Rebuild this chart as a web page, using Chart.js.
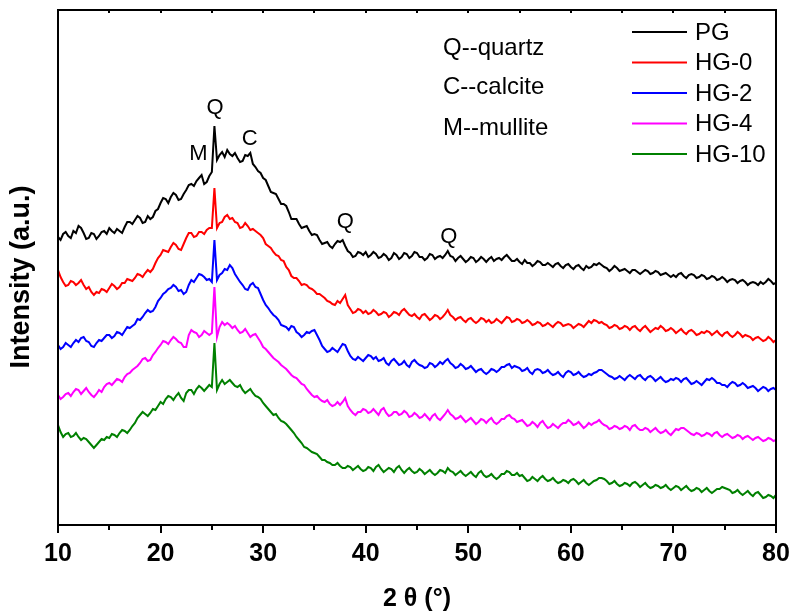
<!DOCTYPE html>
<html><head><meta charset="utf-8">
<script src="https://cdn.jsdelivr.net/npm/chart.js@4.4.1/dist/chart.umd.min.js"></script>
<style>html,body{margin:0;padding:0;background:#fff;}canvas{display:block;}</style>
</head><body>
<canvas id="c" width="790" height="615"></canvas>
<script>
// sampling grid: 2θ from 10° to 80° every 0.25°
const twoTheta = [];
for (let i = 0; i <= 280; i++) twoTheta.push(10 + i * 0.25);

// Intensities (a.u., offset-stacked as in the figure), one row per 5°
const PG = [
288,285,291,293,289,287,294,292,299,297,292,286,287,292,291,286,289,293,294,291,
297,294,292,296,294,292,298,303,303,301,305,309,307,302,303,309,306,308,314,316,
322,327,326,322,328,332,330,325,326,331,335,340,341,339,344,347,350,341,343,349,
353,399,365,370,373,368,375,371,369,372,367,363,364,370,369,372,361,358,354,352,
347,345,339,333,332,331,326,321,321,319,313,306,306,306,301,297,298,299,294,290,
291,290,285,281,282,283,279,277,281,284,283,285,279,274,272,268,269,273,272,270,
273,268,270,273,271,267,268,271,269,265,267,272,270,266,268,272,271,267,269,273,
272,268,268,265,267,271,270,266,268,269,267,270,274,269,268,264,267,269,266,263,
265,268,267,263,265,268,266,263,266,268,264,266,267,265,268,270,267,264,264,266,
263,261,265,262,262,259,261,264,263,260,260,262,260,258,261,262,259,257,260,261,
258,256,259,260,257,255,259,257,258,261,260,262,260,258,257,254,256,259,257,254,
255,256,254,252,255,255,253,251,253,255,254,251,252,254,253,250,251,252,250,248,
250,248,251,252,249,247,250,251,250,247,248,250,249,246,247,249,248,245,246,248,
246,243,245,246,245,242,244,245,243,240,242,243,242,240,243,241,243,246,244,241,
242];
const HG0 = [
255,248,243,239,240,244,243,240,242,245,240,236,238,233,230,233,232,236,235,233,
237,241,239,236,238,242,242,246,245,244,247,251,250,248,252,255,253,256,262,267,
270,275,274,273,278,282,280,276,275,281,287,292,292,288,289,293,293,291,295,297,
297,337,297,302,303,308,310,306,307,303,302,297,298,302,299,295,296,294,292,290,
287,281,279,277,273,270,269,265,264,258,255,249,247,247,244,240,241,240,237,236,
234,231,231,229,227,224,223,221,220,224,222,226,230,220,216,212,213,216,215,212,
214,211,212,215,213,210,211,213,212,208,210,213,212,210,214,216,213,210,209,211,
208,206,210,211,208,205,207,210,209,206,208,211,215,210,208,205,207,208,205,203,
206,207,204,202,204,207,206,203,205,202,203,206,204,202,205,208,207,203,204,206,
205,202,203,205,203,200,201,203,202,199,200,202,200,198,201,203,202,199,200,201,
200,197,199,201,200,198,201,204,202,205,204,202,203,201,200,197,198,200,199,196,
197,199,198,195,198,199,196,194,197,199,196,193,195,197,196,199,197,194,195,197,
195,192,194,196,193,191,194,195,193,190,191,193,192,194,193,190,192,194,191,189,
192,193,190,188,190,193,191,188,190,189,188,185,187,188,186,184,185,188,186,183,
185];
const HG2 = [
180,176,178,182,180,178,182,185,183,187,188,184,183,179,178,182,185,184,187,190,
190,187,189,193,192,190,194,198,197,199,201,206,205,208,212,215,213,214,218,224,
227,231,233,236,237,240,238,234,235,231,233,240,245,243,247,251,250,248,245,246,
243,285,245,250,252,256,255,260,257,251,247,243,240,236,235,240,242,238,237,231,
225,220,217,213,210,208,205,200,199,198,195,199,198,193,191,188,190,193,192,194,
195,190,185,179,176,173,174,177,175,173,177,181,180,174,169,166,165,168,166,164,
167,170,169,166,168,164,165,167,162,160,164,166,163,160,161,164,160,158,163,165,
162,160,159,157,158,162,161,158,160,163,161,164,166,162,160,157,158,161,159,156,
157,159,156,153,155,156,153,151,153,156,155,153,155,158,158,160,161,157,159,158,
157,154,155,157,153,151,155,156,155,152,153,155,152,150,151,153,150,148,152,154,
153,150,151,153,150,148,149,151,150,152,153,155,155,153,151,149,148,146,147,149,
147,145,148,150,148,146,149,150,147,145,148,149,147,144,146,148,145,143,144,146,
145,147,146,143,146,147,144,141,142,144,142,140,143,146,145,147,145,142,142,140,
140,138,141,143,142,139,140,142,140,137,138,139,137,134,136,138,137,134,136,137,
135];
const HG4 = [
130,126,128,131,132,129,133,136,135,131,134,137,133,130,128,131,135,133,138,141,
142,140,143,146,145,143,148,151,152,155,157,159,162,166,167,164,165,170,173,177,
180,184,183,181,185,188,186,183,182,178,178,190,195,193,192,188,190,194,192,190,
192,238,188,198,203,200,202,200,197,199,195,192,193,196,192,188,190,191,187,183,
178,176,173,170,167,165,163,160,158,156,153,150,148,147,144,141,140,136,133,130,
128,129,126,124,123,125,121,119,120,123,120,123,127,119,115,112,110,113,113,116,
115,112,113,116,113,110,115,117,112,109,110,113,113,110,111,114,112,108,109,112,
110,107,108,111,108,105,109,111,107,105,108,111,115,111,109,106,107,109,106,103,
105,107,104,101,103,106,105,102,105,107,103,101,103,106,106,109,110,107,106,103,
104,105,102,99,100,103,101,98,102,104,100,97,98,101,99,97,100,102,102,105,
103,100,101,103,100,97,99,102,100,102,103,105,102,100,99,96,97,99,98,96,
97,99,98,95,99,100,97,95,95,97,96,93,95,97,94,92,93,95,92,90,
93,96,95,97,97,95,93,91,90,92,91,89,90,92,91,89,92,93,90,88,
90,91,89,87,88,90,89,86,88,89,87,85,87,88,86,84,85,87,86,84,
85];
const HG10 = [
100,93,88,91,92,88,89,92,88,85,87,86,83,80,77,80,83,86,85,88,
87,91,90,88,92,95,94,92,95,99,102,107,110,113,111,109,112,116,115,119,
123,121,126,129,128,125,129,132,127,124,132,135,135,131,136,139,137,134,137,140,
138,182,135,141,145,141,143,145,142,139,138,140,135,132,134,136,132,129,128,126,
122,119,116,113,110,111,107,104,103,101,98,95,92,88,85,82,78,77,75,73,
72,71,68,65,65,63,62,60,60,62,59,57,57,59,58,55,57,59,56,54,
55,58,57,54,58,60,56,53,55,57,56,53,57,59,55,52,55,57,54,52,
53,56,54,51,53,55,52,50,52,55,54,52,57,54,53,50,52,54,51,49,
51,53,50,48,52,54,50,48,49,51,48,46,48,51,51,54,53,50,50,52,
49,50,47,44,45,48,46,44,47,49,46,44,45,47,44,42,43,45,44,42,
45,46,44,41,43,45,42,40,42,44,45,47,47,46,44,41,42,44,41,39,
40,42,41,39,42,43,41,38,40,42,39,37,38,40,39,37,38,40,37,35,
37,39,38,35,37,39,36,34,35,37,36,33,35,37,34,32,34,36,36,38,
37,36,35,32,33,35,32,30,32,34,31,29,32,33,30,27,28,30,29,27,
30];

const seriesNames = ['PG','HG-0','HG-2','HG-4','HG-10'];
const seriesValues = [PG, HG0, HG2, HG4, HG10];
const seriesColors = ['#000000','#ff0000','#0000ff','#ff00ff','#008000'];
const xTickValues = [10,20,30,40,50,60,70,80];
const phaseNotes = ['Q--quartz','C--calcite','M--mullite'];
// peak annotations [label, 2θ, intensity]
const peakLabels = [['Q',25.3,417],['M',23.7,371],['C',28.7,386],['Q',38.0,303],['Q',48.1,288]];

const FONT = 'Arial, "Liberation Sans", sans-serif';

const datasets = seriesNames.map((n,i)=>({
  label:n,
  data: twoTheta.map((x,j)=>({x:x, y:seriesValues[i][j]})),
  borderColor: seriesColors[i],
  backgroundColor: seriesColors[i],
  borderWidth: 2,
  pointRadius: 0,
  tension: 0,
  fill: false
}));

const decor = {
  id:'decor',
  afterDraw(chart){
    const ctx = chart.ctx, a = chart.chartArea, xs = chart.scales.x, ys = chart.scales.y;
    ctx.save();
    ctx.strokeStyle = '#000';
    ctx.lineWidth = 2;
    ctx.strokeRect(a.left, a.top, a.right - a.left, a.bottom - a.top);
    for (let v = xs.min; v <= xs.max; v += 5) {
      const p = Math.round(xs.getPixelForValue(v));
      const len = (v % 10 === 0) ? 8 : 5;
      ctx.beginPath(); ctx.moveTo(p, a.bottom); ctx.lineTo(p, a.bottom + len); ctx.stroke();
      ctx.beginPath(); ctx.moveTo(p, a.top); ctx.lineTo(p, a.top + 3); ctx.stroke();
    }
    ctx.fillStyle = '#000';
    ctx.font = 'bold 27px ' + FONT;
    ctx.textAlign = 'center';
    ctx.textBaseline = 'middle';
    ctx.save();
    ctx.translate(22, 277);
    ctx.rotate(-Math.PI/2);
    ctx.fillText('Intensity (a.u.)', 0, 0);
    ctx.restore();
    ctx.font = '24px ' + FONT;
    ctx.textAlign = 'left';
    chart.data.datasets.forEach((d,i)=>{
      const y = 32 + i*30.5;
      ctx.strokeStyle = d.borderColor; ctx.lineWidth = 2;
      ctx.beginPath(); ctx.moveTo(632, y); ctx.lineTo(687, y); ctx.stroke();
      ctx.fillText(d.label, 695, y + 1);
    });
    const noteY = [48, 87, 128];
    phaseNotes.forEach((t,i)=>{ ctx.fillText(t, 443, noteY[i]); });
    ctx.font = '22px ' + FONT;
    ctx.textAlign = 'center';
    peakLabels.forEach(([t,x,y])=>{
      ctx.fillText(t, xs.getPixelForValue(x), ys.getPixelForValue(y));
    });
    ctx.restore();
  }
};

new Chart(document.getElementById('c'), {
  type:'line',
  data:{datasets},
  options:{
    responsive:false,
    animation:false,
    devicePixelRatio:1,
    layout:{padding:{left:0,right:0,top:10,bottom:0}},
    plugins:{legend:{display:false},tooltip:{enabled:false}},
    scales:{
      x:{
        type:'linear', min:10, max:80,
        afterBuildTicks(s){ s.ticks = xTickValues.map(v=>({value:v})); },
        afterFit(s){ s.height = 90; s.paddingLeft = 0; s.paddingRight = 14; },
        grid:{display:false, drawTicks:false},
        border:{display:false},
        ticks:{color:'#000', font:{family:FONT, size:25, weight:'bold'}, padding:14, maxRotation:0},
        title:{display:true, text:'2 θ (°)', color:'#000', font:{family:FONT, size:25, weight:'bold'}, padding:{top:0,bottom:1}}
      },
      y:{
        min:0, max:515,
        afterFit(s){ s.width = 58; },
        grid:{display:false, drawTicks:false},
        border:{display:false},
        ticks:{display:false},
        title:{display:false}
      }
    }
  },
  plugins:[decor]
});
</script>
</body></html>
